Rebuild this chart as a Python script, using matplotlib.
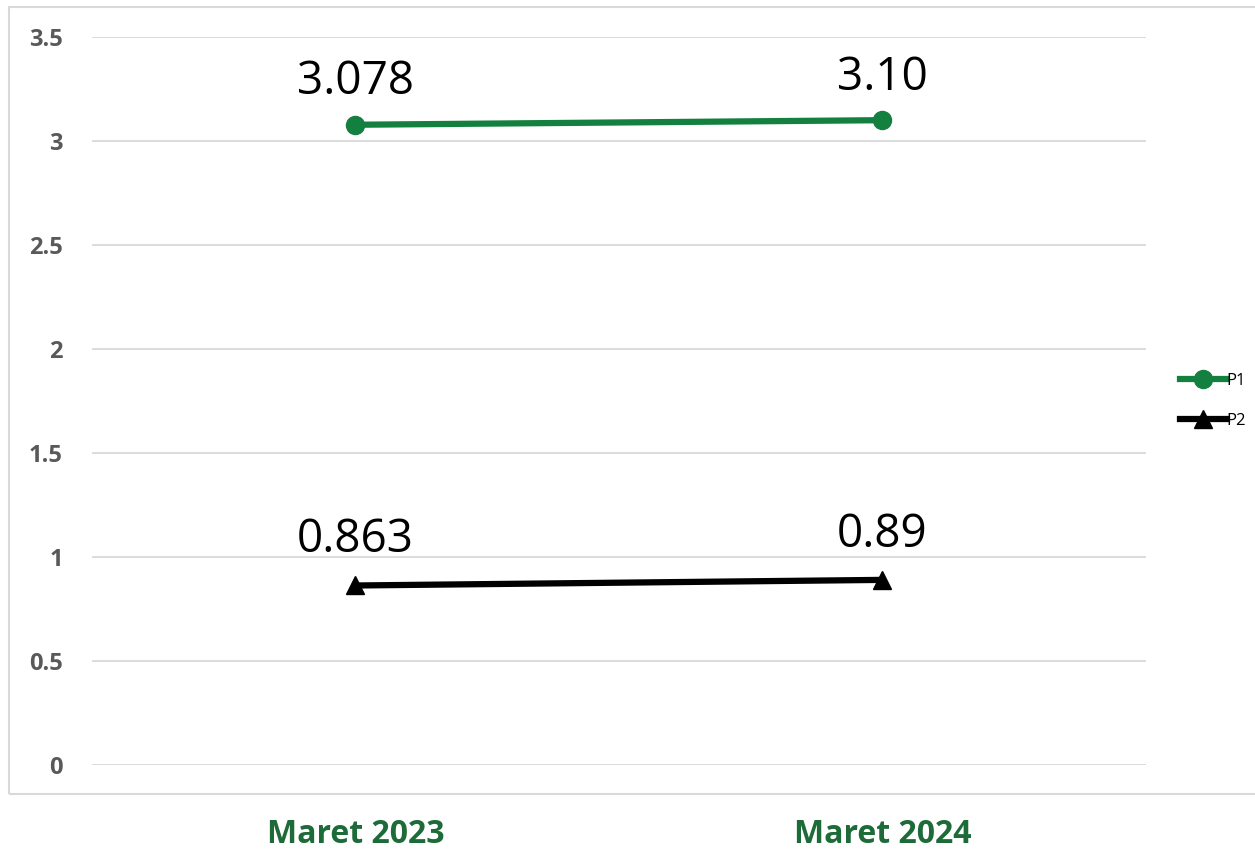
import matplotlib
matplotlib.use("Agg")
import matplotlib.pyplot as plt
from matplotlib.patches import Rectangle

categories = ["Maret 2023", "Maret 2024"]
p1_values = [3.078, 3.10]
p2_values = [0.863, 0.89]
p1_labels = ["3.078", "3.10"]
p2_labels = ["0.863", "0.89"]
yticks = [0, 0.5, 1, 1.5, 2, 2.5, 3, 3.5]
ytick_labels = ["0", "0.5", "1", "1.5", "2", "2.5", "3", "3.5"]

GREEN = "#13803F"
DARK_GREEN = "#1D6B38"
GREY = "#595959"

plt.rcParams["font.family"] = ["Open Sans", "DejaVu Sans"]

fig = plt.figure(figsize=(12.55, 8.56), dpi=100)
ax = fig.add_axes([0.0733, 0.1063, 0.8398, 0.8505])

# outer chart border
fig.patches.append(Rectangle((0.0072, 0.0724), 1.0, 0.9194, transform=fig.transFigure,
                             fill=False, edgecolor="#D9D9D9", linewidth=1.5))

x = list(range(len(categories)))
ax.plot(x, p1_values, color=GREEN, lw=4.5, marker="o", ms=13, label="P1")
ax.plot(x, p2_values, color="black", lw=4.5, marker="^", ms=13, label="P2")

for xi, v, s in zip(x, p1_values, p1_labels):
    ax.annotate(s, (xi, v), xytext=(0, 14), textcoords="offset points",
                ha="center", va="bottom", fontsize=33, color="black")
for xi, v, s in zip(x, p2_values, p2_labels):
    ax.annotate(s, (xi, v), xytext=(0, 16), textcoords="offset points",
                ha="center", va="bottom", fontsize=33, color="black")

ax.set_xlim(-0.5, 1.5)
ax.set_ylim(0, 3.5)
ax.set_yticks(yticks)
ax.set_yticklabels(ytick_labels, fontsize=17, fontweight="bold", color=GREY)
ax.set_xticks(x)
ax.set_xticklabels(categories, fontsize=23, fontweight="bold", color=DARK_GREEN)
ax.tick_params(axis="y", length=0, pad=21)
ax.tick_params(axis="x", length=0, pad=38)
ax.grid(axis="y", color="#D9D9D9", lw=1.3)
ax.set_axisbelow(True)
for sp in ax.spines.values():
    sp.set_visible(False)

ax.legend(loc="center left", bbox_to_anchor=(1.018, 0.5), frameon=False, fontsize=12,
          handlelength=2.8, handletextpad=0.0, labelspacing=1.4, markerscale=1.0)

fig.savefig("out.png", dpi=100)
